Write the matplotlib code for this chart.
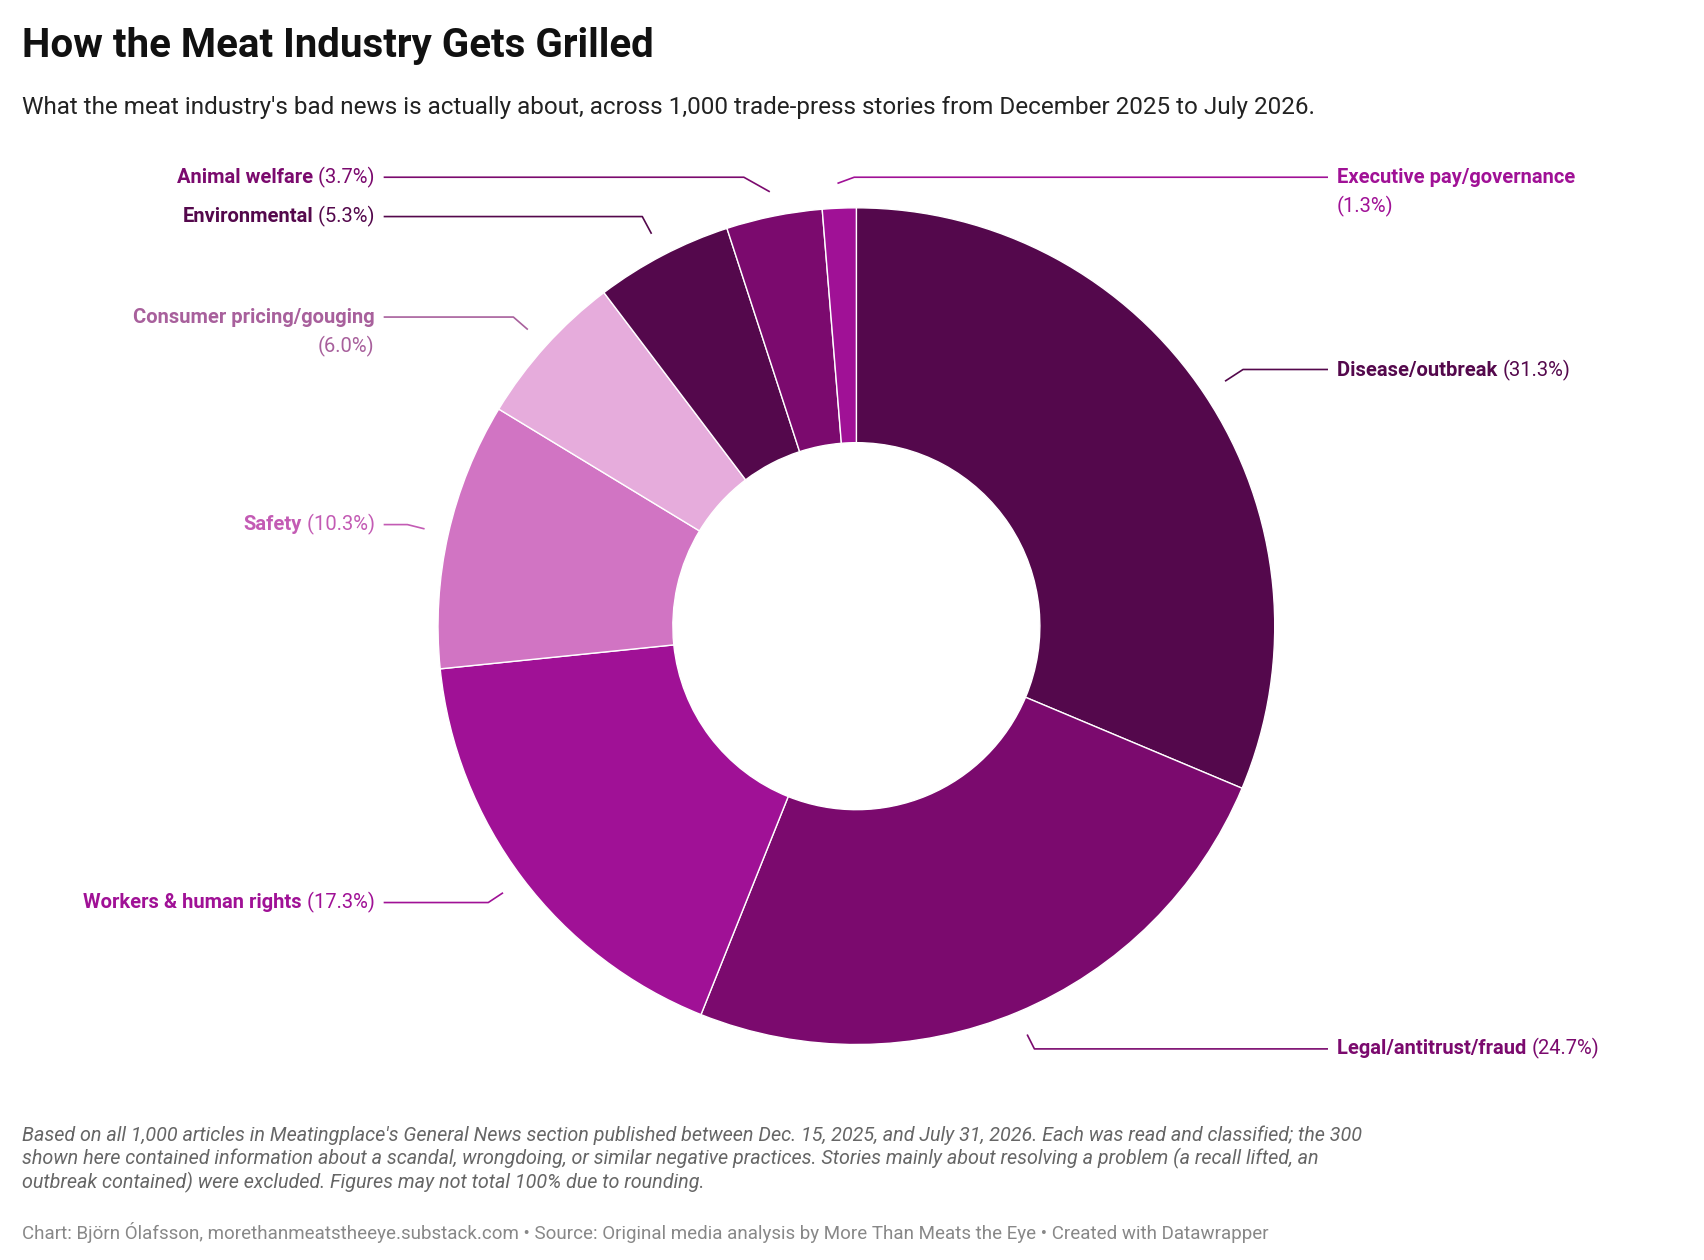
import numpy as np
import matplotlib.pyplot as plt

plt.rcParams['font.family'] = ['Roboto', 'DejaVu Sans']

categories = ['Disease/outbreak', 'Legal/antitrust/fraud', 'Workers & human rights', 'Safety',
              'Consumer pricing/gouging', 'Environmental', 'Animal welfare', 'Executive pay/governance']
shares = [31.3, 24.7, 17.3, 10.3, 6.0, 5.3, 3.7, 1.3]
colors = ['#54084c', '#7b0a6e', '#a01196', '#d174c3', '#e6acdc', '#54084c', '#7b0a6e', '#a01196']
label_colors = ['#54084c', '#7b0a6e', '#a01196', '#c35bb4', '#a8609c', '#54084c', '#7b0a6e', '#a01196']

# layout in a 1560 x 1153 canvas
W, H = 1560, 1153
cx, cy, R = 784, 573, 383
# elbow point, line end x, side, text y, two-line?
layout = [
    ((1138, 338), 1215, 'r', 339, False),
    ((947, 960), 1215, 'r', 960, False),
    ((447, 826), 352, 'l', 826, False),
    ((373, 480), 352, 'l', 480, False),
    ((470, 290), 352, 'l', 290, True),
    ((588, 198), 352, 'l', 198, False),
    ((681, 162), 352, 'l', 162, False),
    ((782, 162), 1215, 'r', 162, True),
]

fig = plt.figure(figsize=(17.04, 12.6), dpi=100)
ax = fig.add_axes([0, 0, 1, 1])

# y axis is inverted below, so pie direction is mirrored here
ax.pie(shares, colors=colors, startangle=-90, counterclock=True,
       center=(cx, cy), radius=R, wedgeprops=dict(width=R - 168, edgecolor='white', linewidth=1))
ax.set_xlim(0, W)
ax.set_ylim(H, 0)
ax.set_aspect('equal')
ax.axis('off')

renderer = fig.canvas.get_renderer()
total = sum(shares)
start = 90.0
for i, (cat, s) in enumerate(zip(categories, shares)):
    mid = start - s / total * 360 / 2
    start -= s / total * 360
    a = np.deg2rad(mid)
    px, py = cx + 1.06 * R * np.cos(a), cy - 1.06 * R * np.sin(a)
    (ex, ey), lx, side, ty, two = layout[i]
    ax.plot([px, ex, lx], [py, ey, ey], color=label_colors[i], lw=1.2)
    pct = f'({s:.1f}%)'
    fs = 14.5
    if side == 'r':
        tx = lx + 9
        if two:
            ax.text(tx, ty, cat, color=label_colors[i], fontsize=fs, fontweight='bold', ha='left', va='center')
            ax.text(tx, ty + 27, pct, color=label_colors[i], fontsize=fs, ha='left', va='center')
        else:
            t = ax.text(tx, ty, cat + ' ', color=label_colors[i], fontsize=fs, fontweight='bold', ha='left', va='center')
            bb = t.get_window_extent(renderer).transformed(ax.transData.inverted())
            ax.text(bb.x1, ty, pct, color=label_colors[i], fontsize=fs, ha='left', va='center')
    else:
        tx = lx - 9
        if two:
            ax.text(tx, ty, cat, color=label_colors[i], fontsize=fs, fontweight='bold', ha='right', va='center')
            ax.text(tx, ty + 27, pct, color=label_colors[i], fontsize=fs, ha='right', va='center')
        else:
            t = ax.text(tx, ty, ' ' + pct, color=label_colors[i], fontsize=fs, ha='right', va='center')
            bb = t.get_window_extent(renderer).transformed(ax.transData.inverted())
            ax.text(min(bb.x0, bb.x1), ty, cat, color=label_colors[i], fontsize=fs, fontweight='bold', ha='right', va='center')

ax.text(20, 42, 'How the Meat Industry Gets Grilled', fontsize=29, fontweight='bold', va='center', color='#111')
ax.text(20, 98, "What the meat industry's bad news is actually about, across 1,000 trade-press stories from December 2025 to July 2026.",
        fontsize=17.5, va='center', color='#222')
ax.text(20, 1030, "Based on all 1,000 articles in Meatingplace's General News section published between Dec. 15, 2025, and July 31, 2026. Each was read and classified; the 300\n"
        "shown here contained information about a scandal, wrongdoing, or similar negative practices. Stories mainly about resolving a problem (a recall lifted, an\n"
        "outbreak contained) were excluded. Figures may not total 100% due to rounding.",
        fontsize=14.2, style='italic', color='#666', va='top', linespacing=1.2)
ax.text(20, 1128, 'Chart: Björn Ólafsson, morethanmeatstheeye.substack.com • Source: Original media analysis by More Than Meats the Eye • Created with Datawrapper',
        fontsize=13.5, color='#888', va='center')

fig.savefig('out.png', dpi=100, facecolor='white')
